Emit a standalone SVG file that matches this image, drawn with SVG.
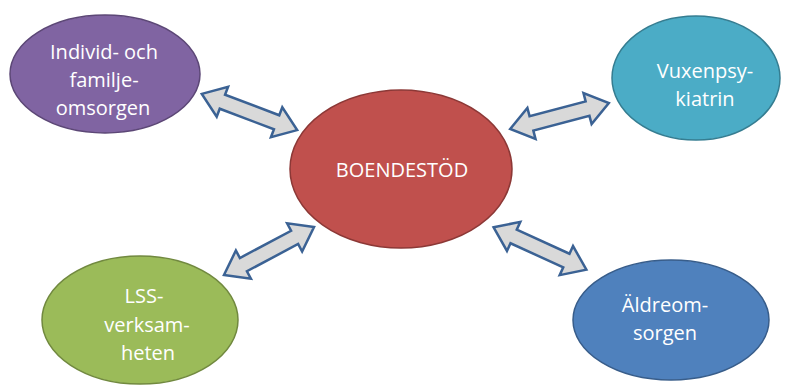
<svg xmlns="http://www.w3.org/2000/svg" width="792" height="385" viewBox="0 0 792 385">
<style>
.lbl{font-family:"Open Sans","Liberation Sans",sans-serif;font-size:20px;fill:#ffffff;text-anchor:middle}
.arr{fill:#d9d9d9;stroke:#3b6294;stroke-width:2.5;stroke-linejoin:miter}
</style>
<rect width="792" height="385" fill="#ffffff"/>
<g id="connectors">
<path class="arr" transform="translate(249.5,112) rotate(20.8)" d="M-51,0 L-29,-16 L-29,-7.5 L29,-7.5 L29,-16 L51,0 L29,16 L29,7.5 L-29,7.5 L-29,16 Z"/>
<path class="arr" transform="translate(559.5,116) rotate(-14.7)" d="M-51,0 L-29,-16 L-29,-7.5 L29,-7.5 L29,-16 L51,0 L29,16 L29,7.5 L-29,7.5 L-29,16 Z"/>
<path class="arr" transform="translate(269,251) rotate(-28)" d="M-51,0 L-29,-16 L-29,-7.5 L29,-7.5 L29,-16 L51,0 L29,16 L29,7.5 L-29,7.5 L-29,16 Z"/>
<path class="arr" transform="translate(540,248.5) rotate(24.6)" d="M-51,0 L-29,-16 L-29,-7.5 L29,-7.5 L29,-16 L51,0 L29,16 L29,7.5 L-29,7.5 L-29,16 Z"/>
</g>
<g id="boendestod">
<ellipse cx="401" cy="169" rx="111" ry="79" fill="#c0504d" stroke="#8c3836" stroke-width="1.5"/>
<text class="lbl" x="402" y="177">BOENDESTÖD</text>
</g>
<g id="individ">
<ellipse cx="105" cy="74" rx="95" ry="59" fill="#8064a2" stroke="#5c4776" stroke-width="1.5"/>
<text class="lbl" x="104" y="59">Individ- och</text>
<text class="lbl" x="104" y="87">familje-</text>
<text class="lbl" x="103" y="115">omsorgen</text>
</g>
<g id="vuxenpsykiatrin">
<ellipse cx="696" cy="78" rx="84" ry="62" fill="#4bacc6" stroke="#357d91" stroke-width="1.5"/>
<text class="lbl" x="705" y="78">Vuxenpsy-</text>
<text class="lbl" x="705" y="106">kiatrin</text>
</g>
<g id="lss">
<ellipse cx="140" cy="320" rx="98" ry="64" fill="#9bbb59" stroke="#71893f" stroke-width="1.5"/>
<text class="lbl" x="144" y="303">LSS-</text>
<text class="lbl" x="147" y="332">verksam-</text>
<text class="lbl" x="148" y="360">heten</text>
</g>
<g id="aldreomsorgen">
<ellipse cx="671" cy="320" rx="98" ry="60" fill="#4f81bd" stroke="#385d8a" stroke-width="1.5"/>
<text class="lbl" x="665" y="312">Äldreom-</text>
<text class="lbl" x="665" y="340">sorgen</text>
</g>
</svg>
